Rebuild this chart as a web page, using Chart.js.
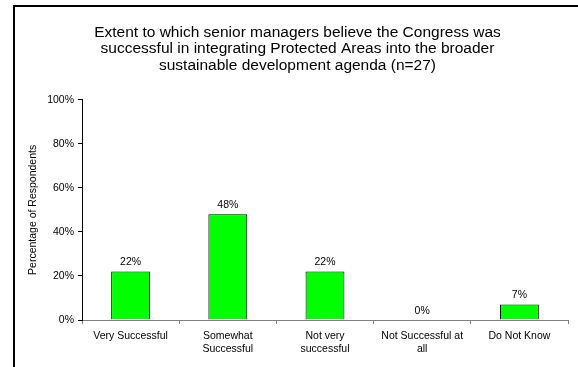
<!DOCTYPE html>
<html>
<head>
<meta charset="utf-8">
<script src="https://cdn.jsdelivr.net/npm/chart.js@4"></script>
<style>
    html, body { margin: 0; padding: 0; background: #fff; }
    #wrap { position: relative; width: 578px; height: 367px; overflow: hidden; }
    #frame {
        position: absolute; left: 13px; top: 5px; right: -4px; bottom: -4px;
        border-top: 2px solid #000; border-left: 2px solid #000;
    }
    canvas { position: absolute; left: 0; top: 0; }
</style>
</head>
<body>
<div id="wrap">
    <div id="frame"></div>
    <canvas id="chart" width="578" height="367"></canvas>
</div>
<script>
// Survey answers, percent of respondents (n=27)
const categories = [
    'Very Successful',
    ['Somewhat', 'Successful'],
    ['Not very', 'successful'],
    ['Not Successful at', 'all'],
    'Do Not Know'
];
const percentages = [22, 48, 22, 0, 7];
const yTicks = [0, 20, 40, 60, 80, 100];

const titleLines = [
    'Extent to which senior managers believe the Congress was',
    'successful in integrating Protected Areas into the broader',
    'sustainable development agenda (n=27)'
];

const FONT = "'Liberation Sans', Arial, sans-serif";

// writes the percentage above each bar
const valueLabels = {
    id: 'valueLabels',
    afterDatasetsDraw(chart) {
        const ctx = chart.ctx;
        const meta = chart.getDatasetMeta(0);
        ctx.save();
        ctx.font = `10.5px ${FONT}`;
        ctx.fillStyle = '#000';
        ctx.textAlign = 'center';
        ctx.textBaseline = 'bottom';
        meta.data.forEach((bar, i) => {
            ctx.fillText(percentages[i] + '%', bar.x, bar.y - 4);
        });
        ctx.restore();
    }
};

new Chart(document.getElementById('chart'), {
    type: 'bar',
    data: {
        labels: categories,
        datasets: [{
            data: percentages,
            backgroundColor: '#00ff00',
            borderColor: '#000',
            borderWidth: 1,
            barPercentage: 0.4,
            categoryPercentage: 1
        }]
    },
    options: {
        responsive: false,
        animation: false,
        layout: { padding: { left: 27, right: 10, top: 0, bottom: 0 } },
        plugins: {
            legend: { display: false },
            tooltip: { enabled: false },
            title: {
                display: true,
                text: titleLines,
                color: '#000',
                font: { family: FONT, size: 15.5, weight: 'normal', lineHeight: 1.07 },
                padding: { top: 24, bottom: 26 }
            }
        },
        scales: {
            x: {
                grid: { drawOnChartArea: false, drawTicks: true, tickLength: 4, color: '#808080' },
                border: { color: '#808080' },
                ticks: { color: '#000', font: { family: FONT, size: 10.5, lineHeight: 1.3 }, padding: 5, maxRotation: 0, autoSkip: false },
                afterFit: s => { s.height = 47; }
            },
            y: {
                min: 0,
                max: 100,
                afterBuildTicks: s => { s.ticks = yTicks.map(v => ({ value: v })); },
                grid: { drawOnChartArea: false, drawTicks: true, tickLength: 4, color: '#000' },
                border: { color: '#000' },
                ticks: { color: '#000', font: { family: FONT, size: 10.5 }, padding: 4, callback: v => v + '%' },
                title: {
                    display: true,
                    text: 'Percentage of Respondents',
                    color: '#000',
                    font: { family: FONT, size: 10.5 },
                    padding: 0
                },
                afterFit: s => { s.width = 55; }
            }
        }
    },
    plugins: [valueLabels]
});
</script>
</body>
</html>
